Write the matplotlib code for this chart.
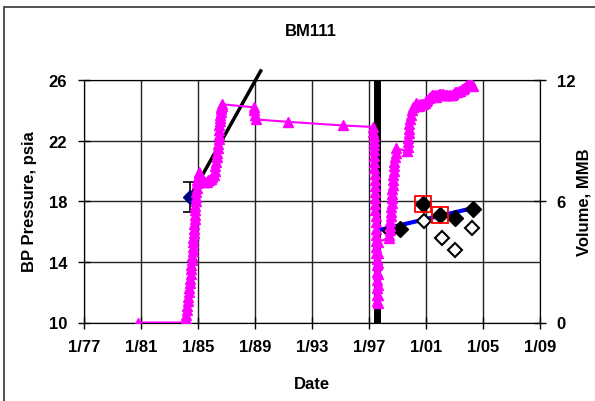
import matplotlib
matplotlib.use("Agg")
import matplotlib.pyplot as plt
from matplotlib.patches import Rectangle

plt.rcParams['font.family'] = ['Liberation Sans', 'DejaVu Sans']
plt.rcParams['font.weight'] = 'bold'

vol_years = [1980.8, 1984.1,
             # first build-up
             1984.14, 1984.18, 1984.22, 1984.26, 1984.3, 1984.33, 1984.36, 1984.39,
             1984.42, 1984.45, 1984.48, 1984.51, 1984.54, 1984.57, 1984.6, 1984.62,
             1984.64, 1984.66, 1984.68, 1984.7, 1984.72, 1984.74, 1984.76, 1984.78,
             1984.8, 1984.82, 1984.84, 1984.86, 1984.88, 1984.9, 1984.93, 1984.96,
             1985.0, 1985.05, 1985.1,
             1985.2, 1985.3, 1985.4, 1985.5, 1985.6, 1985.7, 1985.8, 1985.9, 1986.0,
             1986.1, 1986.16, 1986.22, 1986.27, 1986.31, 1986.35, 1986.38, 1986.41,
             1986.44, 1986.46, 1986.48, 1986.5, 1986.52, 1986.54, 1986.56, 1986.58,
             1986.6, 1986.63, 1986.66, 1986.7,
             1988.9, 1988.95, 1989.0, 1989.05, 1991.3, 1995.2, 1997.3,
             # shut-in drop and recovery
             1997.31, 1997.32, 1997.33, 1997.34, 1997.35, 1997.36, 1997.37, 1997.38,
             1997.39, 1997.4, 1997.41, 1997.42, 1997.43, 1997.44, 1997.45, 1997.46,
             1997.47, 1997.48, 1997.49, 1997.5, 1997.51, 1997.52, 1997.53, 1997.54,
             1997.55, 1997.56, 1997.57, 1997.58, 1997.59, 1997.6,
             1997.61, 1997.62, 1997.63, 1997.64, 1997.65, 1997.66,
             1998.4,
             # second build-up
             1998.43, 1998.46, 1998.48, 1998.5, 1998.52, 1998.54, 1998.56, 1998.58,
             1998.6, 1998.62, 1998.64, 1998.66, 1998.68, 1998.7, 1998.72, 1998.75,
             1998.78, 1998.82, 1998.86, 1998.9,
             1999.7, 1999.72, 1999.74, 1999.76, 1999.78, 1999.8, 1999.83, 1999.87,
             1999.92, 2000.0, 2000.1, 2000.2, 2000.3, 2000.4, 2000.5, 2000.6,
             2000.7, 2000.8, 2000.9, 2001.0, 2001.1, 2001.2, 2001.3, 2001.4,
             2001.5, 2001.6, 2001.7, 2001.8, 2001.9, 2002.0, 2002.1, 2002.2,
             2002.3, 2002.4, 2002.5, 2002.6, 2002.7, 2002.8, 2002.9, 2003.0,
             2003.1, 2003.2, 2003.3, 2003.4, 2003.5, 2003.6, 2003.7, 2003.8,
             2003.9, 2004.0, 2004.1, 2004.2, 2004.3]
vol_psi_equiv = [10.0, 10.0,
                 10.2, 10.5, 10.8, 11.1, 11.4, 11.7, 12.0, 12.3,
                 12.6, 12.9, 13.2, 13.5, 13.8, 14.1, 14.4, 14.7,
                 15.0, 15.3, 15.6, 15.9, 16.2, 16.5, 16.8, 17.1,
                 17.4, 17.7, 18.0, 18.3, 18.6, 18.9, 19.2, 19.4,
                 19.6, 19.8, 19.9,
                 19.6, 19.4, 19.3, 19.3, 19.3, 19.4, 19.4, 19.5, 19.6,
                 19.7, 20.0, 20.3, 20.6, 20.9, 21.2, 21.5, 21.8,
                 22.1, 22.4, 22.7, 23.0, 23.3, 23.5, 23.7, 23.9,
                 24.1, 24.2, 24.3, 24.4,
                 24.2, 24.0, 23.7, 23.4, 23.24, 23.0, 22.9,
                 22.6, 22.3, 22.0, 21.7, 21.4, 21.0, 20.6, 20.2,
                 19.8, 19.4, 19.0, 18.6, 18.2, 17.8, 17.4, 17.0,
                 16.6, 16.2, 15.8, 15.4, 15.0, 14.6, 14.2, 13.8,
                 13.3, 12.8, 12.3, 11.8, 11.4, 11.3,
                 11.8, 12.5, 13.2, 13.9, 14.6, 15.3,
                 15.6,
                 15.8, 16.1, 16.4, 16.7, 17.0, 17.3, 17.6, 17.9,
                 18.2, 18.5, 18.8, 19.1, 19.4, 19.7, 20.0, 20.3,
                 20.6, 20.9, 21.2, 21.5,
                 21.3, 21.6, 21.9, 22.2, 22.5, 22.8, 23.1, 23.4,
                 23.7, 24.0, 24.2, 24.3, 24.5, 24.4, 24.3, 24.4,
                 24.4, 24.4, 24.5, 24.6, 24.7, 24.8, 24.9, 25.0,
                 25.0, 25.0, 24.9, 25.0, 25.1, 25.1, 25.1, 25.1,
                 25.0, 25.0, 25.0, 25.0, 25.0, 25.0, 25.1, 25.2,
                 25.2, 25.2, 25.3, 25.3, 25.4, 25.4, 25.5, 25.6,
                 25.7, 25.7, 25.8, 25.7, 25.6]
volume = [(p - 10.0) * 0.75 for p in vol_psi_equiv]

# pressure data
trend_years = [1984.46, 1989.4]
trend_psi = [18.3, 26.6]

first_year = [1984.46]
first_psi = [18.3]
first_err = [1.0]

shutin_year = 1997.56

fit_years = [1997.7, 2004.3]
fit_psi = [16.1, 17.55]

filled_years = [1999.2, 2000.8, 2002.0, 2003.05, 2004.3]
filled_psi = [16.15, 17.8, 17.1, 16.9, 17.5]

open_years = [1998.5, 2000.85, 2002.1, 2003.05, 2004.25]
open_psi = [16.05, 16.7, 15.55, 14.8, 16.25]

flag_years = [2000.8, 2002.0]
flag_psi = [17.8, 17.1]

x_ticks = [1977, 1981, 1985, 1989, 1993, 1997, 2001, 2005, 2009]
x_labels = ["1/77", "1/81", "1/85", "1/89", "1/93", "1/97", "1/01", "1/05", "1/09"]
y_ticks = [10, 14, 18, 22, 26]
y2_ticks = [0, 6, 12]

fig = plt.figure(figsize=(5.95, 4.02), dpi=100)
fig.patches.append(Rectangle((4 / 595, -0.1), 1.2, 1 - 8 / 402 + 0.1,
                             transform=fig.transFigure, fill=False,
                             edgecolor='#333333', lw=1.2))

ax = fig.add_axes([84 / 595, 1 - 323.5 / 402, 456 / 595, 242.5 / 402])
ax.set_xlim(1977, 2009)
ax.set_ylim(10, 26)
ax.set_xticks(x_ticks)
ax.set_xticklabels(x_labels)
ax.set_yticks(y_ticks)
ax.grid(True, color='#222222', lw=1)
ax.tick_params(direction='inout', length=8, width=1, labelsize=12, pad=8)
for s in ax.spines.values():
    s.set_color('#555555')
ax.spines['left'].set_color('black')

ax.plot(trend_years, trend_psi, color='black', lw=2.5, clip_on=False, zorder=3)
ax.axvline(shutin_year, color='black', lw=5, zorder=3)
ax.plot(fit_years, fit_psi, color='#0000ff', lw=3, zorder=3)
ax.errorbar(first_year, first_psi, yerr=first_err, fmt='D', color='#000080',
            ms=7, ecolor='black', elinewidth=1.2, capsize=5, capthick=1.2, zorder=4)
ax.plot(open_years, open_psi, 'D', ms=7, mfc='white', mec='black', mew=1.5, zorder=4)
ax.plot(filled_years, filled_psi, 'D', ms=8, color='black', zorder=5)
ax.plot(flag_years, flag_psi, 's', ms=12, mfc='none', mec='red', mew=1.3, zorder=6)

ax2 = ax.twinx()
ax2.set_ylim(0, 12)
ax2.set_yticks(y2_ticks)
ax2.tick_params(direction='inout', length=8, width=1, labelsize=12, pad=8)
ax2.plot(vol_years, volume, color='#ff00ff', lw=1.5, marker='^', ms=7,
         mec='#ff00ff', zorder=5)

fig.text(0.522, 1 - 32 / 402, "BM111", ha='center', va='center',
         fontsize=12, weight='bold')
fig.text(312 / 595, 1 - 385 / 402, "Date", ha='center', va='center',
         fontsize=12, weight='bold')
fig.text(30 / 595, 1 - 202 / 402, "BP Pressure, psia", ha='center', va='center',
         rotation=90, fontsize=12, weight='bold')
fig.text(584 / 595, 1 - 202 / 402, "Volume, MMB", ha='center', va='center',
         rotation=90, fontsize=12, weight='bold')

fig.savefig("out.png", dpi=100)
